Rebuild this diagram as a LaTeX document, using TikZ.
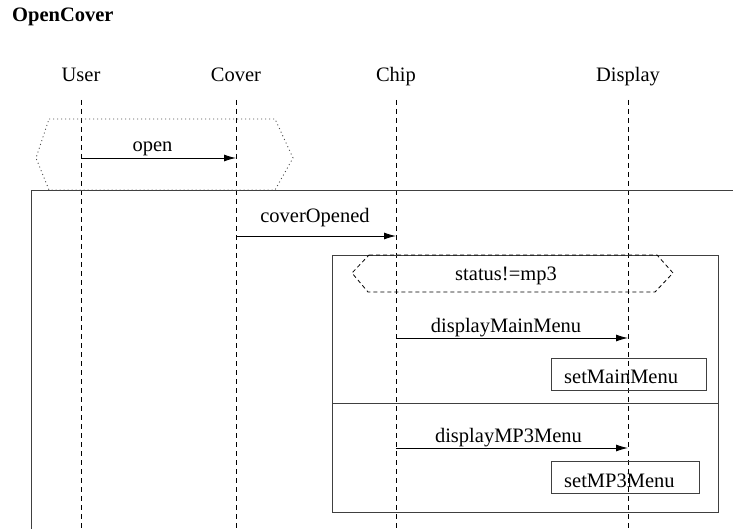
\documentclass[tikz,border=0pt]{standalone}
\usepackage{fontspec}
\setmainfont{Liberation Serif}
\usetikzlibrary{arrows.meta}
\tikzset{
  txt/.style={inner sep=0pt, anchor=base, font=\fontsize{20.5}{24}\selectfont},
  lifeline/.style={line width=0.8pt, dash pattern=on 5pt off 4pt},
  frame/.style={draw=black!75, line width=0.9pt},
  msg/.style={line width=0.9pt, -{Latex[length=12pt,width=7pt]}},
  actbox/.style={draw=black!75, line width=0.9pt},
}
\begin{document}
\begin{tikzpicture}[x=1pt,y=-1pt]
\path[use as bounding box] (0,0) rectangle (733,529);
\clip (0,0) rectangle (733,529);
% title
\node[txt, anchor=base west, font=\fontsize{20.5}{24}\selectfont\bfseries] (title) at (12,22) {OpenCover};
% heads
\node[txt] (user) at (81,82) {User};
\node[txt] (cover) at (236,82) {Cover};
\node[txt] (chip) at (396,82) {Chip};
\node[txt] (display) at (628,82) {Display};
% lifelines
\foreach \n/\x in {u/81,c/236,h/396,d/628}{
  \coordinate (\n top) at (\x,100);
  \coordinate (\n bot) at (\x,540);
  \draw[lifeline] (\n top) -- (\n bot);
}
% outer frame
\draw[frame] (31,540) -- (31,190) -- (740,190);
% dotted guard hexagon
\draw[black!70, line width=0.9pt, dash pattern=on 1pt off 3pt] (49,119) -- (275,119) -- (293,158) -- (275,190) -- (49,190) -- (36,158) -- cycle;
% open
\coordinate (o1) at (81,158);
\coordinate (o2) at (236,158);
\draw[msg] (o1) -- (o2);
\node[txt] (openlbl) at (152.5,152) {open};
% coverOpened
\coordinate (co1) at (236,236);
\coordinate (co2) at (396,236);
\draw[msg] (co1) -- (co2);
\node[txt] (colbl) at (315,223) {coverOpened};
% inner alt frame
\draw[frame] (332,255) rectangle (718,512);
\draw[frame] (332,403) -- (718,403);
% dashed guard hexagon
\draw[black, line width=0.8pt, dash pattern=on 4pt off 3pt] (369,255) -- (657,255) -- (673,273) -- (655,292) -- (368,292) -- (352,273) -- cycle;
\node[txt] (guard) at (506,280) {status!=mp3};
% displayMainMenu
\coordinate (dm1) at (396,338);
\coordinate (dm2) at (628,338);
\draw[msg] (dm1) -- (dm2);
\node[txt] (dmlbl) at (506,332) {displayMainMenu};
\draw[actbox] (551,358) rectangle (706,390);
\node[txt, anchor=base west] (setmain) at (564,383) {setMainMenu};
% displayMP3Menu
\coordinate (dp1) at (396,448);
\coordinate (dp2) at (628,448);
\draw[msg] (dp1) -- (dp2);
\node[txt] (dplbl) at (508.5,442) {displayMP3Menu};
\draw[actbox] (551,461) rectangle (699,493);
\node[txt, anchor=base west] (setmp3) at (564,487) {setMP3Menu};
\end{tikzpicture}
\end{document}
